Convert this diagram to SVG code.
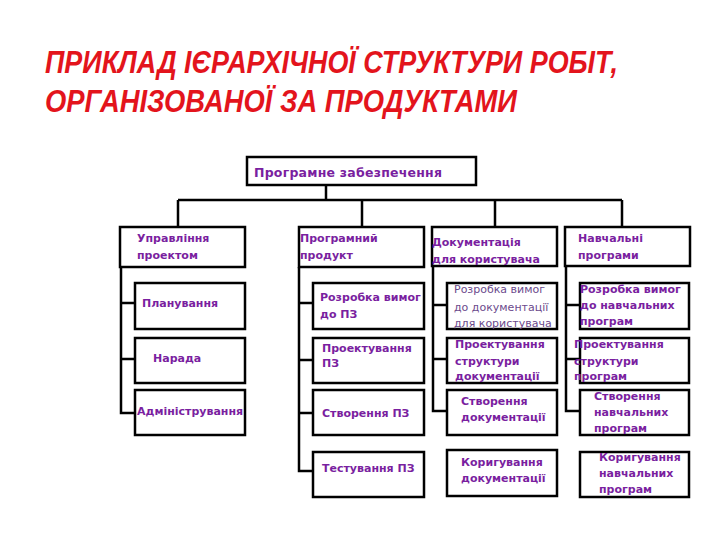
<svg xmlns="http://www.w3.org/2000/svg" width="720" height="540" viewBox="0 0 720 540">
<style>
.title{font-family:"Liberation Sans",Arial,sans-serif;font-weight:bold;font-style:italic;font-size:31px;fill:#e3141c}
.box{fill:#fff;stroke:#000;stroke-width:2.5}
.t{font-family:"DejaVu Sans","Liberation Sans",sans-serif;font-weight:bold;font-size:11px;fill:#7a1fa0}
.tl{font-family:"DejaVu Sans","Liberation Sans",sans-serif;font-size:11px;fill:#6b4a8c}
.ln{fill:none;stroke:#000;stroke-width:2.5}
</style>
<rect width="720" height="540" fill="#fff"/>
<text class="title" x="45" y="73" textLength="573" lengthAdjust="spacingAndGlyphs">ПРИКЛАД ІЄРАРХІЧНОЇ СТРУКТУРИ РОБІТ,</text>
<text class="title" x="45" y="112" textLength="472" lengthAdjust="spacingAndGlyphs">ОРГАНІЗОВАНОЇ ЗА ПРОДУКТАМИ</text>
<g id="connectors">
<path class="ln" d="M326 185V200" stroke-width="1.5"/>
<path class="ln" d="M178 200H622M178 200V232M362 200V228M495 200V227M622 200V227"/>
<path class="ln" d="M121 267V413H135M121 303H135M121 359H135"/>
<path class="ln" d="M299 267V471H313M299 303H313M299 360H313M299 413H313"/>
<path class="ln" d="M433 266V411H447M433 305H447M433 359H447"/>
<path class="ln" d="M566 266V411H580M566 305H580M566 359H580"/>
</g>
<g id="root"><rect class="box" x="247" y="157" width="229" height="28"/><text class="t" x="254" y="177" style="font-size:12.5px" textLength="188" lengthAdjust="spacing">Програмне забезпечення</text></g>
<g id="upr"><rect class="box" x="120" y="227" width="125" height="40"/><text class="t" x="137" y="242">Управління</text><text class="t" x="137" y="259">проектом</text></g>
<g id="prod"><rect class="box" x="299" y="227" width="125" height="40"/><text class="t" x="300" y="242">Програмний</text><text class="t" x="300" y="259">продукт</text></g>
<g id="doc"><rect class="box" x="432" y="227" width="125" height="39"/><text class="t" x="432" y="246">Документація</text><text class="t" x="432" y="263">для користувача</text></g>
<g id="nav"><rect class="box" x="565" y="227" width="125" height="39"/><text class="t" x="578" y="242">Навчальні</text><text class="t" x="578" y="259">програми</text></g>
<g id="plan"><rect class="box" x="135" y="283" width="110" height="46"/><text class="t" x="142" y="307">Планування</text></g>
<g id="narada"><rect class="box" x="135" y="338" width="110" height="45"/><text class="t" x="153" y="362">Нарада</text></g>
<g id="admin"><rect class="box" x="135" y="390" width="110" height="45"/><text class="t" x="137" y="415">Адміністрування</text></g>
<g id="rozPZ"><rect class="box" x="313" y="283" width="111" height="46"/><text class="t" x="320" y="301">Розробка вимог</text><text class="t" x="320" y="318">до ПЗ</text></g>
<g id="proPZ"><rect class="box" x="313" y="338" width="111" height="45"/><text class="t" x="322" y="352">Проектування</text><text class="t" x="322" y="367">ПЗ</text></g>
<g id="stvPZ"><rect class="box" x="313" y="390" width="111" height="45"/><text class="t" x="322" y="417">Створення ПЗ</text></g>
<g id="testPZ"><rect class="box" x="313" y="452" width="111" height="45"/><text class="t" x="322" y="472">Тестування ПЗ</text></g>
<g id="rozDoc"><rect class="box" x="447" y="283" width="110" height="46"/><text class="tl" x="454" y="293">Розробка вимог</text><text class="tl" x="454" y="311">до документації</text><text class="tl" x="454" y="327">для користувача</text></g>
<g id="proDoc"><rect class="box" x="447" y="338" width="110" height="45"/><text class="t" x="455" y="348">Проектування</text><text class="t" x="455" y="365">структури</text><text class="t" x="455" y="380">документації</text></g>
<g id="stvDoc"><rect class="box" x="447" y="390" width="110" height="45"/><text class="t" x="461" y="405">Створення</text><text class="t" x="461" y="421">документації</text></g>
<g id="korDoc"><rect class="box" x="447" y="450" width="110" height="46"/><text class="t" x="461" y="466">Коригування</text><text class="t" x="461" y="482">документації</text></g>
<g id="rozNav"><rect class="box" x="580" y="283" width="109" height="46"/><text class="t" x="580" y="293">Розробка вимог</text><text class="t" x="580" y="309">до навчальних</text><text class="t" x="580" y="325">програм</text></g>
<g id="proNav"><rect class="box" x="580" y="338" width="109" height="45"/><text class="t" x="574" y="348">Проектування</text><text class="t" x="574" y="365">структури</text><text class="t" x="574" y="380">програм</text></g>
<g id="stvNav"><rect class="box" x="580" y="390" width="109" height="45"/><text class="t" x="594" y="400">Створення</text><text class="t" x="594" y="416">навчальних</text><text class="t" x="594" y="432">програм</text></g>
<g id="korNav"><rect class="box" x="580" y="452" width="109" height="45"/><text class="t" x="599" y="461">Коригування</text><text class="t" x="599" y="477">навчальних</text><text class="t" x="599" y="493">програм</text></g>
</svg>
